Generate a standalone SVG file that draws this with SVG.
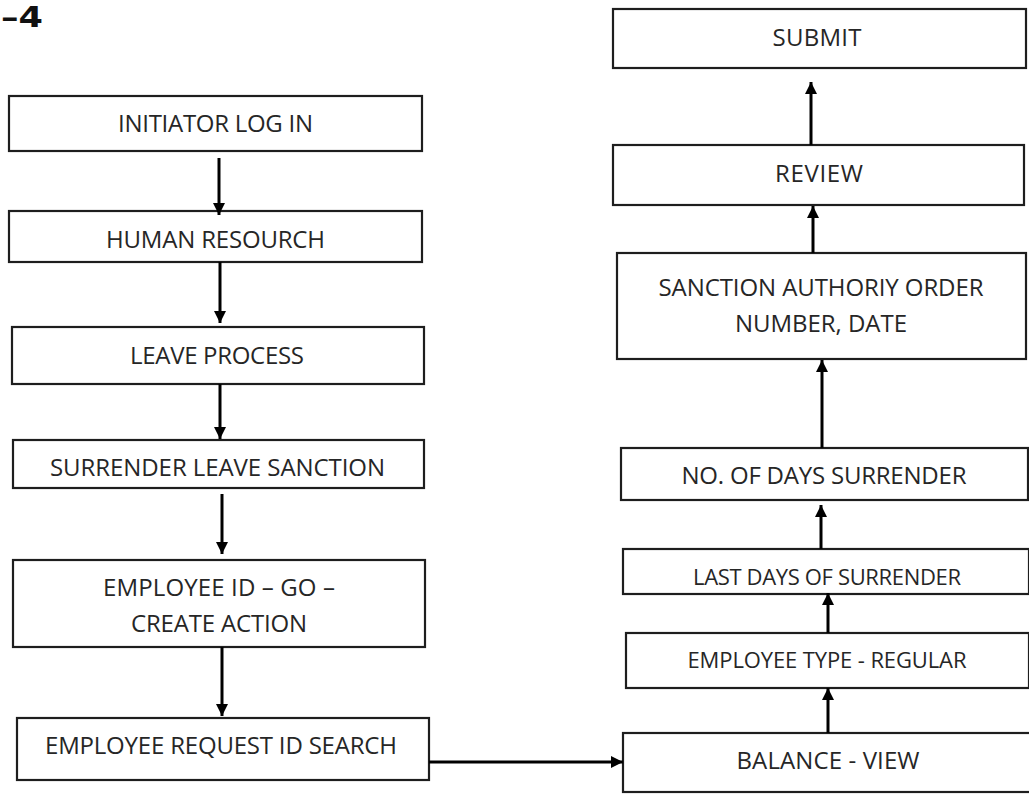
<svg xmlns="http://www.w3.org/2000/svg" width="1029" height="794" viewBox="0 0 1029 794">
  <style>
    .box { fill: #ffffff; stroke: #1e1e1e; stroke-width: 2.2; }
    .lbl { font-family: "Open Sans", "Liberation Sans", sans-serif; font-size: 24px; fill: #262626; text-anchor: middle; }
    .sm { font-size: 22px; }
    .edge { stroke: #000000; stroke-width: 3; fill: none; marker-end: url(#head); }
    .fig { font-family: "DejaVu Sans", "Liberation Sans", sans-serif; font-weight: bold; font-size: 28px; fill: #111111; }
  </style>
  <defs>
    <marker id="head" markerUnits="userSpaceOnUse" markerWidth="12" markerHeight="12" refX="12" refY="6" orient="auto">
      <path d="M0,0 L12,6 L0,12 z" fill="#000000"/>
    </marker>
  </defs>

  <rect x="0" y="0" width="1029" height="794" fill="#ffffff"/>

  <text class="fig" x="1" y="27" textLength="42" lengthAdjust="spacingAndGlyphs">–4</text>

  <!-- left column -->
  <g id="initiator-log-in">
    <rect class="box" x="9" y="96" width="413" height="55"/>
    <text class="lbl" x="215.5" y="132" textLength="195">INITIATOR LOG IN</text>
  </g>
  <g id="human-resourch">
    <rect class="box" x="9" y="211" width="413" height="51"/>
    <text class="lbl" x="215.5" y="248" textLength="219">HUMAN RESOURCH</text>
  </g>
  <g id="leave-process">
    <rect class="box" x="12" y="327" width="412" height="57"/>
    <text class="lbl" x="217" y="364" textLength="174">LEAVE PROCESS</text>
  </g>
  <g id="surrender-leave-sanction">
    <rect class="box" x="13" y="440" width="411" height="48"/>
    <text class="lbl" x="217.5" y="475.5" textLength="335">SURRENDER LEAVE SANCTION</text>
  </g>
  <g id="employee-id-go">
    <rect class="box" x="13" y="560" width="412" height="87"/>
    <text class="lbl" x="219" y="596" textLength="232">EMPLOYEE ID – GO –</text>
    <text class="lbl" x="219" y="632" textLength="176">CREATE ACTION</text>
  </g>
  <g id="employee-request-id-search">
    <rect class="box" x="17" y="718" width="412" height="62"/>
    <text class="lbl" x="221" y="754" textLength="352">EMPLOYEE REQUEST ID SEARCH</text>
  </g>

  <!-- right column -->
  <g id="submit">
    <rect class="box" x="613" y="9" width="413" height="59"/>
    <text class="lbl" x="817" y="45.5" textLength="89">SUBMIT</text>
  </g>
  <g id="review">
    <rect class="box" x="613" y="145" width="411" height="60"/>
    <text class="lbl" x="819" y="182" textLength="88">REVIEW</text>
  </g>
  <g id="sanction-authoriy-order">
    <rect class="box" x="617" y="253" width="409" height="106"/>
    <text class="lbl" x="821" y="295.5" textLength="325">SANCTION AUTHORIY ORDER</text>
    <text class="lbl" x="821" y="332" textLength="172">NUMBER, DATE</text>
  </g>
  <g id="no-of-days-surrender">
    <rect class="box" x="621" y="448" width="407" height="52"/>
    <text class="lbl" x="824" y="484" textLength="285">NO. OF DAYS SURRENDER</text>
  </g>
  <g id="last-days-of-surrender">
    <rect class="box" x="623" y="549" width="406" height="45"/>
    <text class="lbl sm" x="827" y="585" textLength="268">LAST DAYS OF SURRENDER</text>
  </g>
  <g id="employee-type-regular">
    <rect class="box" x="626" y="633" width="403" height="55"/>
    <text class="lbl sm" x="827" y="668" textLength="279">EMPLOYEE TYPE - REGULAR</text>
  </g>
  <g id="balance-view">
    <rect class="box" x="623" y="733" width="410" height="59"/>
    <text class="lbl" x="828" y="769" textLength="183">BALANCE - VIEW</text>
  </g>

  <!-- connectors -->
  <g id="connectors">
    <line class="edge" x1="219" y1="158" x2="219" y2="215"/>
    <line class="edge" x1="220" y1="262" x2="220" y2="323"/>
    <line class="edge" x1="220" y1="384" x2="220" y2="439"/>
    <line class="edge" x1="222" y1="494" x2="222" y2="554"/>
    <line class="edge" x1="222" y1="647" x2="222" y2="716"/>
    <line class="edge" x1="429" y1="762" x2="623" y2="762"/>
    <line class="edge" x1="828" y1="733" x2="828" y2="688"/>
    <line class="edge" x1="828" y1="633" x2="828" y2="593"/>
    <line class="edge" x1="821" y1="549" x2="821" y2="505"/>
    <line class="edge" x1="822" y1="448" x2="822" y2="360"/>
    <line class="edge" x1="813" y1="253" x2="813" y2="206"/>
    <line class="edge" x1="811" y1="145" x2="811" y2="82"/>
  </g>
</svg>
